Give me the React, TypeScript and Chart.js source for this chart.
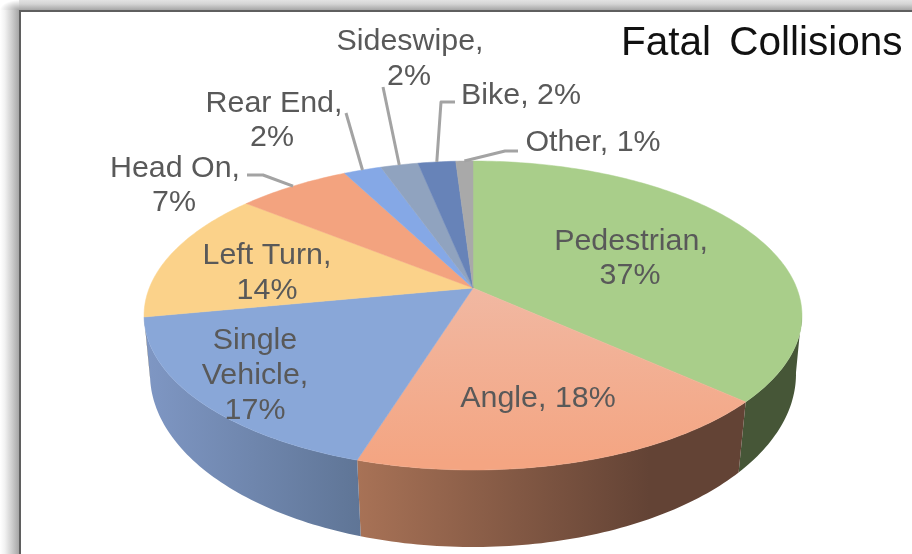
import React, { useEffect, useRef } from "react";
import { Chart, registerables } from "chart.js";

Chart.register(...registerables);

const categories = ["Pedestrian", "Angle", "Single Vehicle", "Left Turn", "Head On", "Rear End", "Sideswipe", "Bike", "Other"];
const values = [36.7, 18.1, 17.2, 13.8, 6.6, 2.2, 2.2, 2.2, 1.0];
const percentLabels = ["37%", "18%", "17%", "14%", "7%", "2%", "2%", "2%", "1%"];
const faceColors = ["#A9CE8A", "#F3AD8E", "#89A7D8", "#FBD28A", "#F3A37F", "#85A8E6", "#90A3BF", "#6783B8", "#A9A9A9"];
// wall colours: [left, right] of a horizontal gradient
const wallColors: [string, string][] = [
  ["#465637", "#465637"],
  ["#A87256", "#634335"],
  ["#7F97C4", "#5F7596"],
  ["#8a7040", "#8a7040"],
  ["#8a5a44", "#8a5a44"],
  ["#4e6a94", "#4e6a94"],
  ["#5a6a80", "#5a6a80"],
  ["#40557a", "#40557a"],
  ["#707070", "#707070"],
];
const titleText = "Fatal Collisions";
const labelColor = "#595959";
const leaderColor = "#A3A3A3";

// Perspective of the top and bottom discs of the 3D pie
const TOP = { cx: 473, cy: 288, a: 323.7, b: 149.6, k: 0.178 };
const BOTTOM = { cx: 473, cy: 345.5, a: 318.6, b: 168.4, k: 0.1645 };

const project = (d: typeof TOP, theta: number) => {
  const x = Math.sin(theta), y = Math.cos(theta);
  const w = 1 + d.k * y;
  return { x: d.cx + (d.a * x) / w, y: d.cy - (d.b * y) / w };
};

// Text placement (centre x, centre y per line) and optional leader elbows
const labelLayout: { lines: (c: string, p: string) => string[]; xy: [number, number][]; leader?: [number, number][] }[] = [
  { lines: (c, p) => [c + ",", p], xy: [[631, 242], [630, 276]] },
  { lines: (c, p) => [c + ", " + p], xy: [[538, 399]] },
  { lines: (c, p) => ["Single", "Vehicle,", p], xy: [[255, 341], [255, 376], [255, 411]] },
  { lines: (c, p) => [c + ",", p], xy: [[267, 256], [267, 291]] },
  { lines: (c, p) => [c + ",", p], xy: [[175, 169], [174, 203]], leader: [[247, 175], [263, 175]] },
  { lines: (c, p) => [c + ",", p], xy: [[274, 104], [272, 138]], leader: [[346, 113]] },
  { lines: (c, p) => [c + ",", p], xy: [[410, 42], [409, 77]], leader: [[383, 87]] },
  { lines: (c, p) => [c + ", " + p], xy: [[521, 96]], leader: [[455, 102], [441, 102]] },
  { lines: (c, p) => [c + ", " + p], xy: [[593, 143]], leader: [[518, 151], [505, 151]] },
];

const pie3d = {
  id: "pie3d",
  beforeDatasetsDraw(chart: any) {
    const ctx: CanvasRenderingContext2D = chart.ctx;
    const arcs = chart.getDatasetMeta(0).data;
    const STEP = Math.PI / 180;
    const toTheta = (ang: number) => ang + Math.PI / 2;
    const WALL_FROM = (99 * Math.PI) / 180;
    const WALL_TO = (260 * Math.PI) / 180;

    // side walls
    arcs.forEach((arc: any, i: number) => {
      const s = Math.max(toTheta(arc.startAngle), WALL_FROM);
      const e = Math.min(toTheta(arc.endAngle), WALL_TO);
      if (e <= s) return;
      const tops: { x: number; y: number }[] = [];
      const bots: { x: number; y: number }[] = [];
      const n = Math.max(2, Math.ceil((e - s) / STEP));
      for (let k = 0; k <= n; k++) {
        const t = s + ((e - s) * k) / n;
        tops.push(project(TOP, t));
        bots.push(project(BOTTOM, t));
      }
      const all = tops.concat(bots);
      const xs = all.map((p) => p.x);
      const minX = Math.min(...xs), maxX = Math.max(...xs);
      const g = ctx.createLinearGradient(minX, 0, i === 1 ? minX + 292 : maxX, 0);
      g.addColorStop(0, wallColors[i][0]);
      g.addColorStop(1, wallColors[i][1]);
      ctx.beginPath();
      tops.forEach((p, k) => (k ? ctx.lineTo(p.x, p.y) : ctx.moveTo(p.x, p.y)));
      bots.reverse().forEach((p) => ctx.lineTo(p.x, p.y));
      ctx.closePath();
      ctx.fillStyle = g;
      ctx.fill();
    });

    // top faces
    arcs.forEach((arc: any, i: number) => {
      const s = toTheta(arc.startAngle), e = toTheta(arc.endAngle);
      const n = Math.max(2, Math.ceil((e - s) / STEP));
      ctx.beginPath();
      ctx.moveTo(TOP.cx, TOP.cy);
      for (let k = 0; k <= n; k++) {
        const p = project(TOP, s + ((e - s) * k) / n);
        ctx.lineTo(p.x, p.y);
      }
      ctx.closePath();
      let fill: any = arc.options.backgroundColor;
      if (i === 1) {
        const g = ctx.createLinearGradient(0, 288, 0, 462);
        g.addColorStop(0, "#F1B8A2");
        g.addColorStop(1, "#F4A582");
        fill = g;
      }
      ctx.fillStyle = fill;
      ctx.strokeStyle = fill;
      ctx.lineWidth = 0.5;
      ctx.fill();
      ctx.stroke();
    });

    // leader lines
    ctx.strokeStyle = leaderColor;
    ctx.lineWidth = 3;
    ctx.lineJoin = "round";
    arcs.forEach((arc: any, i: number) => {
      const l = labelLayout[i].leader;
      if (!l) return;
      const end = project(TOP, toTheta((arc.startAngle + arc.endAngle) / 2));
      ctx.beginPath();
      l.forEach((p, k) => (k ? ctx.lineTo(p[0], p[1]) : ctx.moveTo(p[0], p[1])));
      ctx.lineTo(end.x, end.y);
      ctx.stroke();
    });

    // data labels
    ctx.font = '30.4px "Liberation Sans"';
    ctx.fillStyle = labelColor;
    ctx.textAlign = "center";
    ctx.textBaseline = "middle";
    categories.forEach((c, i) => {
      const layout = labelLayout[i];
      layout.lines(c, percentLabels[i]).forEach((line, k) => {
        ctx.fillText(line, layout.xy[k][0], layout.xy[k][1]);
      });
    });

    // title
    ctx.font = '40.5px "Liberation Sans"';
    (ctx as any).wordSpacing = "7px";
    ctx.fillStyle = "#111111";
    ctx.textAlign = "left";
    ctx.textBaseline = "alphabetic";
    ctx.fillText(titleText, 621, 55);
    (ctx as any).wordSpacing = "0px";

    return false;
  },
};

export default function App() {
  const ref = useRef<HTMLCanvasElement>(null);
  useEffect(() => {
    const chart = new Chart(ref.current!, {
      type: "pie",
      data: {
        labels: categories,
        datasets: [{ data: values, backgroundColor: faceColors, borderWidth: 0 }],
      },
      options: {
        responsive: false,
        animation: false,
        plugins: { legend: { display: false }, tooltip: { enabled: false } },
      },
      plugins: [pie3d],
    } as any);
    return () => chart.destroy();
  }, []);
  return (
    <div style={{ position: "fixed", left: 0, top: 0, width: 912, height: 554, overflow: "hidden", background: "#fff" }}>
      <div style={{ position: "absolute", left: 19, top: 0, width: 893, height: 10, background: "linear-gradient(to bottom, #e2e2e2, #d4d4d4 40%, #a6a6a6 100%)" }} />
      <div style={{ position: "absolute", left: 0, top: 10, width: 19, height: 544, background: "linear-gradient(to right, #ffffff, #f2f2f2 25%, #d0d0d0 60%, #a6a6a6 100%)" }} />
      <div style={{ position: "absolute", left: 0, top: 0, width: 19, height: 10, background: "radial-gradient(ellipse 100% 100% at 100% 100%, #a6a6a6, #d8d8d8 55%, #ffffff 100%)" }} />
      <div
        style={{
          position: "absolute",
          left: 19,
          top: 10,
          width: 1000,
          height: 700,
          background: "#fff",
          borderLeft: "2px solid #5f5f5f",
          borderTop: "2px solid #5f5f5f",
        }}
      />
      <canvas
        ref={ref}
        width={912}
        height={554}
        style={{ position: "absolute", left: 0, top: 0, width: 912, height: 554, filter: "blur(0.6px)" }}
      />
    </div>
  );
}
